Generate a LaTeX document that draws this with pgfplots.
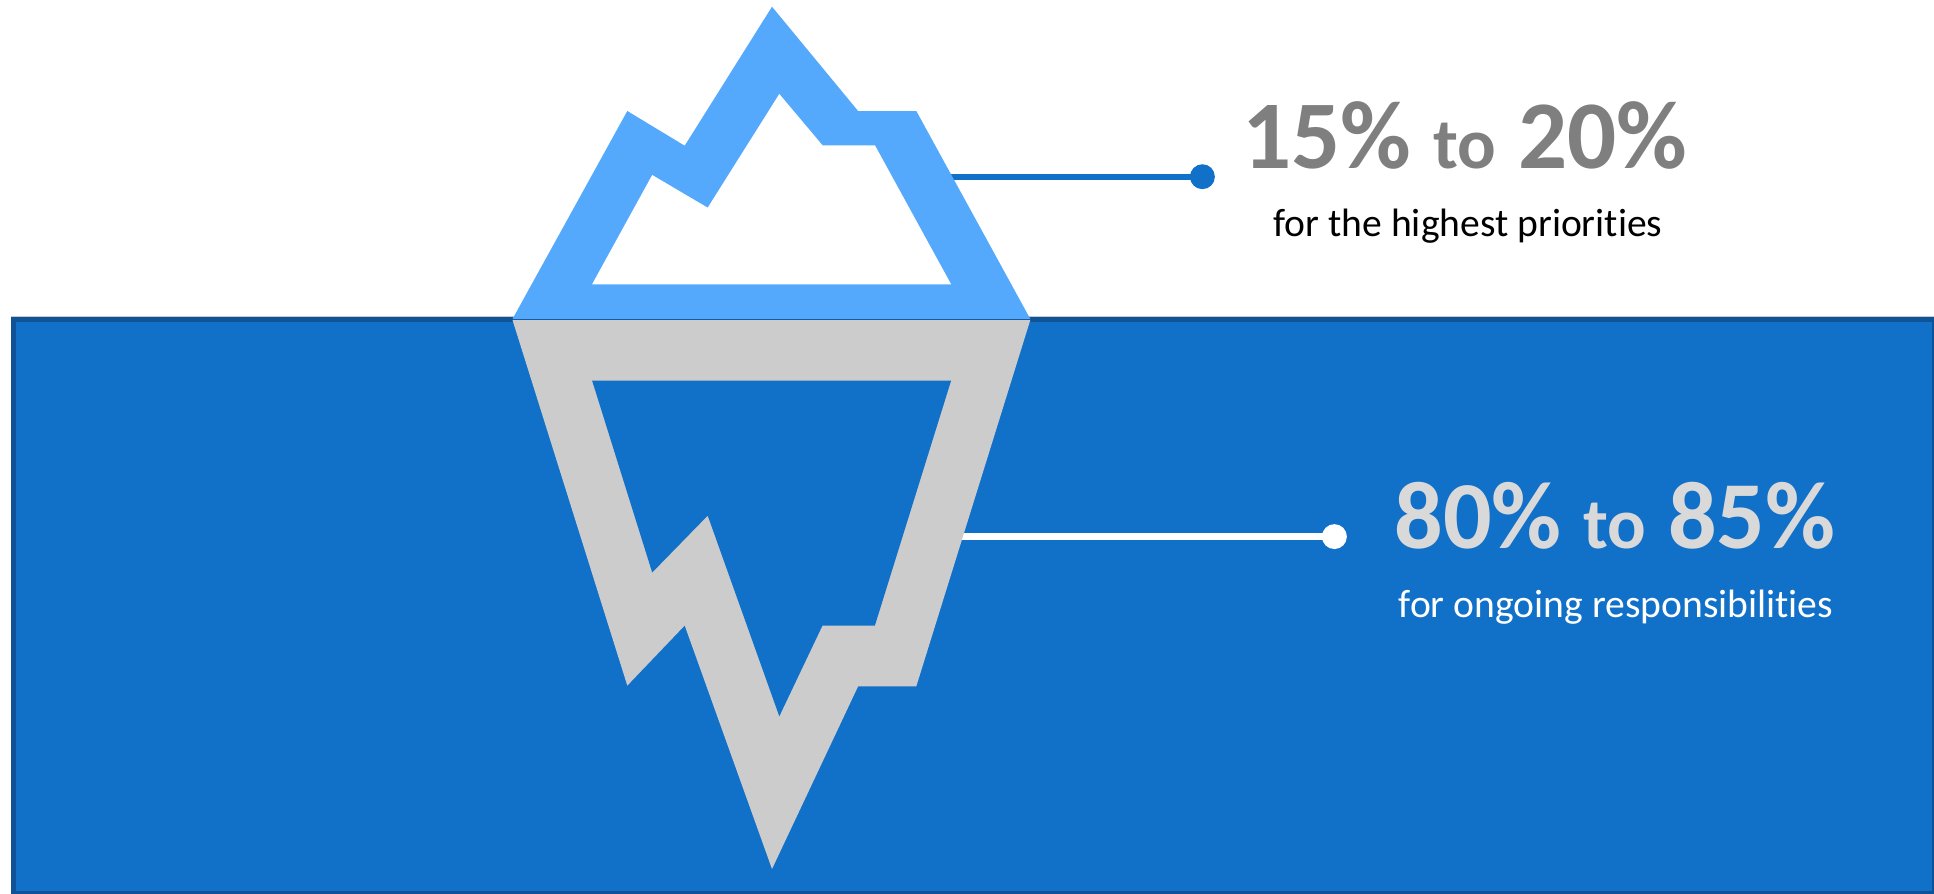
\documentclass[border=0pt]{standalone}
\usepackage{pgfplots}
\pgfplotsset{compat=1.18}
\usepackage{fontspec}
\setmainfont{Carlito}[Ligatures=CommonOff]
\definecolor{water}{HTML}{1170C8}
\definecolor{waterEdge}{HTML}{0F5296}
\definecolor{waterRim}{HTML}{C8CCD0}
\definecolor{iceTop}{HTML}{55A9FC}
\definecolor{iceLow}{HTML}{CCCCCC}
\definecolor{bigGrey}{HTML}{7F7F7F}
\definecolor{bigLight}{HTML}{D9D9D9}
\begin{document}
\begin{tikzpicture}
\path[use as bounding box] (0,0) rectangle (967pt,447pt);
\begin{axis}[
  at={(0,0)}, anchor=south west,
  scale only axis, width=967pt, height=447pt,
  xmin=0, xmax=1934, ymin=0, ymax=894, y dir=reverse,
  hide axis, clip=true
]
% sea: pale rim, dark edge, then the water inside it
\addplot[fill=waterRim, draw=none] coordinates {(11,316)(1934,316)(1934,318)(11,318)} --cycle;
\addplot[fill=waterEdge, draw=none] coordinates {(11,317)(1934,317)(1934,894)(11,894)} --cycle;
\addplot[fill=water, draw=none] coordinates {(16,322)(1931.5,322)(1931.5,891)(16,891)} --cycle;

% leader lines with end dots
\addplot[color=water, line width=3.2pt, mark=*, mark size=4.6pt, mark indices={2}, mark options={fill=water, draw=none}]
  coordinates {(925,176.7)(1202.4,176.7)};
\addplot[color=white, line width=3.2pt, mark=*, mark size=4.6pt, mark indices={2}, mark options={fill=white, draw=none}]
  coordinates {(950,536.6)(1334.4,536.6)};

% part of the iceberg above the water
\addplot[fill=iceTop, draw=none] coordinates {
  (512.5,319)(627.3,111)(684.7,145.7)(772,6.7)(858.1,111)(916.3,111)(1030.3,319)} --cycle;
\addplot[fill=white, draw=none] coordinates {
  (592.1,284.3)(652.2,175)(707.7,207.7)(779.3,94)(822.5,145.3)(874.9,145.3)(951.1,284.3)} --cycle;

% part of the iceberg below the water
\addplot[fill=iceLow, draw=none] coordinates {
  (512.5,320)(627.3,685.6)(684.7,625.5)(772,869)(858.1,686.3)(916.3,686.3)(1030.3,320)} --cycle;
\addplot[fill=water, draw=none] coordinates {
  (592.1,380.6)(652.2,572.5)(707.7,515.6)(779.3,716.3)(822.5,625.5)(874.9,625.5)(951.1,380.6)} --cycle;

% captions
\node[anchor=base, text=bigGrey, inner sep=0pt] at (axis cs:1465,168)
  {\bfseries\fontsize{48.5}{48.5}\selectfont 15\% {\fontsize{36}{36}\selectfont to} 20\%};
\node[anchor=base, text=black, inner sep=0pt] at (axis cs:1468,236.5)
  {\fontsize{19.8}{19.8}\selectfont for the highest priorities};
\node[anchor=base, text=bigLight, inner sep=0pt] at (axis cs:1615,548.3)
  {\bfseries\fontsize{48}{48}\selectfont 80\% {\fontsize{36}{36}\selectfont to} 85\%};
\node[anchor=base, text=white, inner sep=0pt] at (axis cs:1616,617.5)
  {\fontsize{19.8}{19.8}\selectfont for ongoing responsibilities};
\end{axis}
\end{tikzpicture}
\end{document}
